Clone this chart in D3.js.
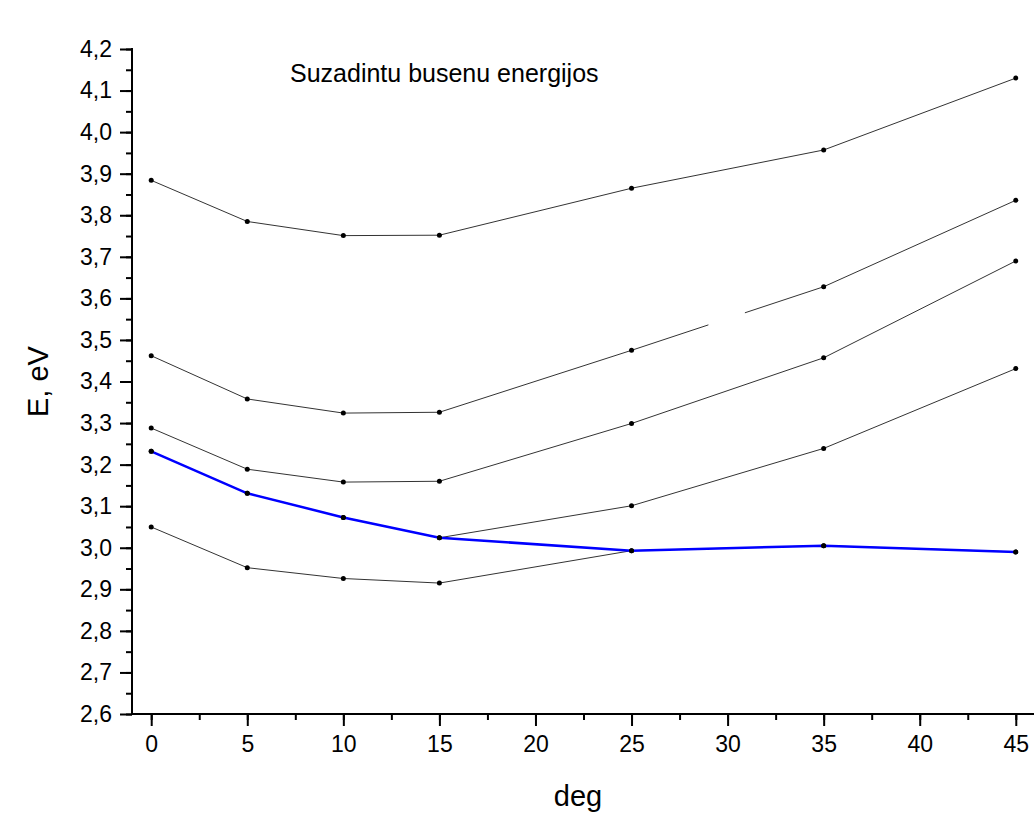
<!DOCTYPE html>
<html>
<head>
<meta charset="utf-8">
<script src="https://cdn.jsdelivr.net/npm/d3@7"></script>
<style>
  body { margin: 0; background: #fff; }
  svg { display: block; font-family: Arial, "Liberation Sans", sans-serif; }
</style>
</head>
<body>
<svg id="chart" width="1034" height="815"></svg>
<script>
// angle, deg
var angles = [0, 5, 10, 15, 25, 35, 45];

// excited state energies, eV (black curves)
var state5 = [3.884, 3.785, 3.751, 3.752, 3.865, 3.957, 4.130];
var state4 = [3.462, 3.358, 3.324, 3.326, 3.475, 3.628, 3.836];
var state3 = [3.288, 3.189, 3.158, 3.160, 3.299, 3.457, 3.690];
var state2 = [3.232, 3.131, 3.073, 3.024, 3.101, 3.239, 3.431];
var state1 = [3.050, 2.952, 2.926, 2.915, 2.993, 3.005, 2.990];
// lowest state (blue)
var lowest = [3.232, 3.131, 3.073, 3.024, 2.993, 3.005, 2.990];

var xTicks = [0, 5, 10, 15, 20, 25, 30, 35, 40, 45];
var yTicks = [2.6, 2.7, 2.8, 2.9, 3.0, 3.1, 3.2, 3.3, 3.4, 3.5, 3.6, 3.7, 3.8, 3.9, 4.0, 4.1, 4.2];

var svg = d3.select("#chart");

var x = d3.scaleLinear().domain([-1, 46]).range([132, 1035]);
var y = d3.scaleLinear().domain([2.6, 4.2]).range([714, 49]);

var line = d3.line()
    .x(d => x(d.a))
    .y(d => y(d.e));

var toPoints = function (vals) {
    return vals.map((e, i) => ({ a: angles[i], e: e }));
};

// axes: minor ticks first, then major ticks with labels
var xMinor = d3.range(0, 46, 2.5);
var yMinor = d3.range(2.6, 4.2001, 0.05);

var xAxisG = svg.append("g").attr("transform", "translate(0," + y(2.6) + ")");
xAxisG.call(d3.axisBottom(x).tickValues(xMinor).tickSize(6).tickFormat(""));
xAxisG.call(g => g.select(".domain").remove());
var xMajor = svg.append("g").attr("transform", "translate(0," + y(2.6) + ")")
    .call(d3.axisBottom(x).tickValues(xTicks).tickSize(12).tickPadding(10).tickFormat(d3.format("d")));
xMajor.select(".domain").remove();
xMajor.selectAll("text").attr("font-size", 23).attr("fill", "#000");

var yAxisG = svg.append("g").attr("transform", "translate(" + x(-1) + ",0)");
yAxisG.call(d3.axisLeft(y).tickValues(yMinor).tickSize(6).tickFormat(""));
yAxisG.call(g => g.select(".domain").remove());
var yMajor = svg.append("g").attr("transform", "translate(" + x(-1) + ",0)")
    .call(d3.axisLeft(y).tickValues(yTicks).tickSize(12).tickPadding(8)
        .tickFormat(d => d3.format(".1f")(d).replace(".", ",")));
yMajor.select(".domain").remove();
yMajor.selectAll("text").attr("font-size", 23).attr("fill", "#000");

svg.selectAll(".tick line").attr("stroke", "#000").attr("stroke-width", 2);

// axis lines
svg.append("line")
    .attr("x1", x(-1)).attr("x2", 1034)
    .attr("y1", y(2.6)).attr("y2", y(2.6))
    .attr("stroke", "#000").attr("stroke-width", 2);
svg.append("line")
    .attr("x1", x(-1)).attr("x2", x(-1))
    .attr("y1", y(2.6) + 1).attr("y2", y(4.2) - 1)
    .attr("stroke", "#000").attr("stroke-width", 2);

// black curves
var blackStates = [state5, state4, state3, state2, state1];
blackStates.forEach(function (vals) {
    svg.append("path")
        .datum(toPoints(vals))
        .attr("d", line)
        .attr("fill", "none")
        .attr("stroke", "#333")
        .attr("stroke-width", 1);
});

// small break in the 4th curve near 30 deg
svg.append("rect")
    .attr("x", x(29.0)).attr("width", x(30.9) - x(29.0))
    .attr("y", y(3.58)).attr("height", y(3.50) - y(3.58))
    .attr("fill", "#fff");

// blue curve
svg.append("path")
    .datum(toPoints(lowest))
    .attr("d", line)
    .attr("fill", "none")
    .attr("stroke", "#0000ff")
    .attr("stroke-width", 2.5);

// markers
blackStates.concat([lowest]).forEach(function (vals) {
    svg.append("g").selectAll("circle")
        .data(toPoints(vals))
        .enter()
        .append("circle")
        .attr("cx", d => x(d.a))
        .attr("cy", d => y(d.e))
        .attr("r", 2.5)
        .attr("fill", "#000");
});

// titles
svg.append("text")
    .attr("x", 290).attr("y", 82)
    .attr("font-size", 25)
    .text("Suzadintu busenu energijos");

svg.append("text")
    .attr("transform", "translate(48," + y(3.4) + ") rotate(-90)")
    .attr("text-anchor", "middle")
    .attr("font-size", 29)
    .text("E, eV");

svg.append("text")
    .attr("x", 578).attr("y", 806)
    .attr("text-anchor", "middle")
    .attr("font-size", 29)
    .text("deg");
</script>
</body>
</html>
